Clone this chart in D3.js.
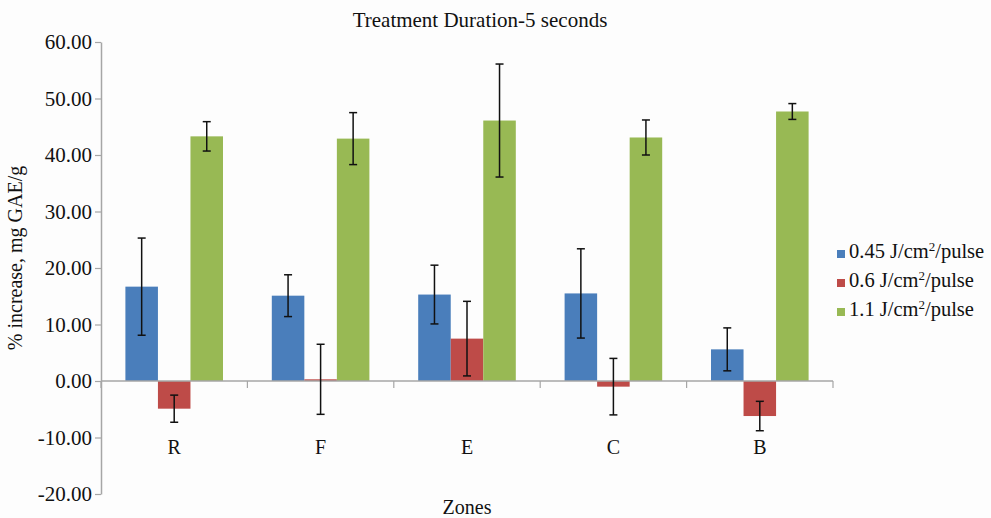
<!DOCTYPE html>
<html>
<head>
<meta charset="utf-8">
<script src="https://cdn.jsdelivr.net/npm/d3@7"></script>
<style>
  body { margin: 0; background: #fdfdfd; }
  svg text, svg tspan { font-family: 'Liberation Serif', 'DejaVu Serif', serif !important; fill: #111; }
</style>
</head>
<body>
<div id="graf"></div>
<script>
// datos
zonas = ['R', 'F', 'E', 'C', 'B']
series = ['0.45', '0.6', '1.1']
colores = ['#4a7ebb', '#be4b48', '#98b954']
valores045 = [16.7, 15.1, 15.3, 15.5, 5.6]
valores06  = [-4.9, 0.3, 7.5, -1.0, -6.2]
valores11  = [43.3, 42.9, 46.1, 43.1, 47.7]
error045 = [8.6, 3.7, 5.2, 7.9, 3.8]
error06  = [2.4, 6.2, 6.6, 5.0, 2.6]
error11  = [2.6, 4.6, 10.0, 3.1, 1.4]
ticksY = [-20, -10, 0, 10, 20, 30, 40, 50, 60]

fuente = "'Liberation Serif', 'DejaVu Serif', serif"
ancho_total = 991
alto_total = 518
margins = { top: 42, left: 101, right: 158, bottom: 24 }
ancho = ancho_total - margins.left - margins.right
alto = alto_total - margins.top - margins.bottom

svg = d3.select('#graf').append('svg')
  .attr('width', ancho_total)
  .attr('height', alto_total)
  .style('font-family', fuente)

g = svg.append('g')
  .attr('transform', `translate(${margins.left}, ${margins.top})`)

// escaladores
x = d3.scaleBand().domain(zonas).range([0, ancho]).paddingInner(0).paddingOuter(0)
x1 = d3.scaleBand().domain(series).range([x.bandwidth() / 6, x.bandwidth() * 5 / 6])
y = d3.scaleLinear().domain([-20, 60]).range([alto, 0])
color = d3.scaleOrdinal().domain(series).range(colores)

// tabla de datos
vals = [valores045, valores06, valores11]
errs = [error045, error06, error11]
data = []
zonas.forEach((z, i) => {
  series.forEach((s, j) => {
    data.push({ zona: z, serie: s, valor: vals[j][i], error: errs[j][i] })
  })
})

// eje Y
yAxis = g.append('g')
  .call(d3.axisLeft(y).tickValues(ticksY).tickSize(6).tickSizeOuter(0))
yAxis.attr('font-family', null).attr('font-size', null)
yAxis.select('.domain').attr('stroke', '#a6a6a6').attr('stroke-width', 1.5)
yAxis.selectAll('.tick line').attr('stroke', '#a6a6a6').attr('stroke-width', 1.2)
yAxis.selectAll('.tick text')
  .style('font-family', fuente)
  .style('font-size', '21px')
  .attr('fill', '#111')
  .attr('x', -9)
  .text(d => d < 0 ? '-' + d3.format('.2f')(-d) : d3.format('.2f')(d))

// barras
g.selectAll('rect.barra')
  .data(data)
  .enter().append('rect')
  .attr('class', 'barra')
  .attr('x', d => x(d.zona) + x1(d.serie))
  .attr('width', x1.bandwidth())
  .attr('y', d => y(Math.max(0, d.valor)))
  .attr('height', d => Math.abs(y(d.valor) - y(0)))
  .attr('fill', d => color(d.serie))

// eje X en el cero
xAxis = g.append('g')
  .attr('transform', `translate(0, ${y(0)})`)
xAxis.append('line')
  .attr('x1', 0).attr('x2', ancho)
  .attr('stroke', '#a6a6a6').attr('stroke-width', 1.5)
xAxis.selectAll('line.tk')
  .data(d3.range(zonas.length + 1))
  .enter().append('line')
  .attr('class', 'tk')
  .attr('x1', i => i * x.step()).attr('x2', i => i * x.step())
  .attr('y1', 0).attr('y2', 7)
  .attr('stroke', '#a6a6a6').attr('stroke-width', 1.2)

// etiquetas de zonas
g.selectAll('text.zona')
  .data(zonas)
  .enter().append('text')
  .attr('class', 'zona')
  .attr('x', d => x(d) + x.bandwidth() / 2)
  .attr('y', y(-10) + 16)
  .attr('text-anchor', 'middle')
  .style('font-size', '20px')
  .text(d => d)

// barras de error
err = g.selectAll('g.err')
  .data(data)
  .enter().append('g')
  .attr('class', 'err')
  .attr('transform', d => `translate(${x(d.zona) + x1(d.serie) + x1.bandwidth() / 2}, 0)`)
err.append('line')
  .attr('y1', d => y(d.valor + d.error))
  .attr('y2', d => y(d.valor - d.error))
  .attr('stroke', '#111').attr('stroke-width', 1.5)
err.append('line')
  .attr('x1', -4).attr('x2', 4)
  .attr('y1', d => y(d.valor + d.error)).attr('y2', d => y(d.valor + d.error))
  .attr('stroke', '#111').attr('stroke-width', 1.5)
err.append('line')
  .attr('x1', -4).attr('x2', 4)
  .attr('y1', d => y(d.valor - d.error)).attr('y2', d => y(d.valor - d.error))
  .attr('stroke', '#111').attr('stroke-width', 1.5)

// titulo
svg.append('text')
  .attr('x', 480)
  .attr('y', 27)
  .attr('text-anchor', 'middle')
  .style('font-size', '21px')
  .text('Treatment Duration-5 seconds')

// titulo eje Y
svg.append('text')
  .attr('transform', 'translate(22, 258) rotate(-90)')
  .attr('text-anchor', 'middle')
  .style('font-size', '20px')
  .text('% increase, mg GAE/g')

// titulo eje X
svg.append('text')
  .attr('x', 467)
  .attr('y', 514)
  .attr('text-anchor', 'middle')
  .style('font-size', '20px')
  .text('Zones')

// leyenda
leyenda = svg.append('g')
  .attr('transform', 'translate(837, 254)')
item = leyenda.selectAll('g')
  .data(series)
  .enter().append('g')
  .attr('transform', (d, i) => `translate(0, ${i * 29})`)
item.append('rect')
  .attr('x', 0).attr('y', -4)
  .attr('width', 8).attr('height', 8)
  .attr('fill', d => color(d))
lbl = item.append('text')
  .attr('x', 12)
  .attr('y', 4)
  .style('font-size', '20.5px')
lbl.append('tspan').text(d => d + ' J/cm')
lbl.append('tspan').style('font-size', '13px').attr('dy', -7).text('2')
lbl.append('tspan').attr('dy', 7).text('/pulse')
</script>
</body>
</html>
